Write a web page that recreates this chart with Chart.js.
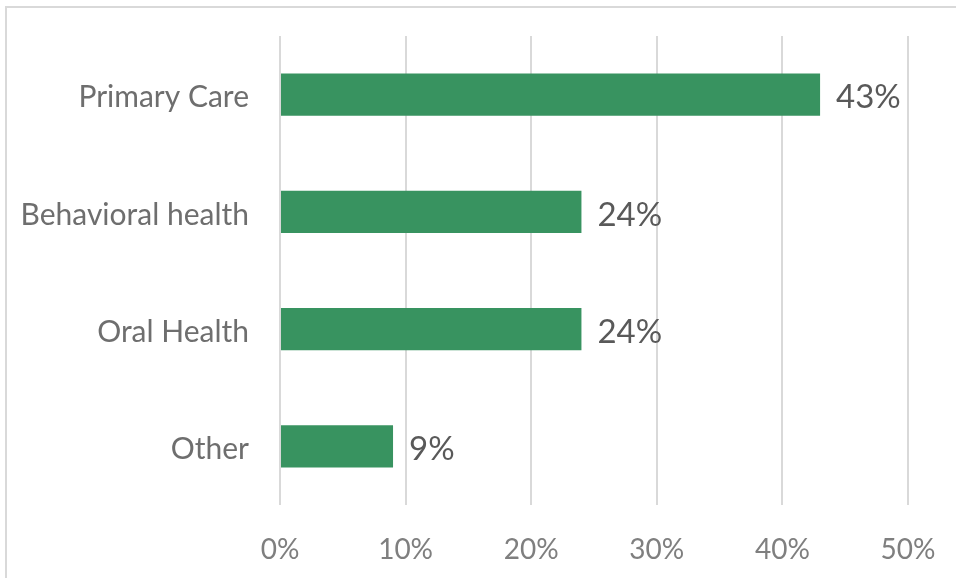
<!DOCTYPE html>
<html>
<head>
<meta charset="utf-8">
<script src="https://cdn.jsdelivr.net/npm/chart.js@4"></script>
<style>
  html, body { margin: 0; padding: 0; background: #fff; }
  #wrap { width: 956px; height: 578px; position: relative; }
</style>
</head>
<body>
<div id="wrap"><canvas id="chart" width="956" height="578"></canvas></div>
<script>
const categories = ['Primary Care', 'Behavioral health', 'Oral Health', 'Other'];
const shares = [43, 24, 24, 9];
const xTicks = [0, 10, 20, 30, 40, 50];

// frame around the whole chart
const framePlugin = {
    id: 'frame',
    beforeDraw(chart) {
        const ctx = chart.ctx;
        ctx.save();
        ctx.strokeStyle = '#d9d9d9';
        ctx.lineWidth = 2;
        ctx.strokeRect(6, 7, chart.width + 10, chart.height + 10);
        ctx.restore();
    }
};

// value labels at the end of each bar
const valueLabels = {
    id: 'valueLabels',
    afterDatasetsDraw(chart) {
        const ctx = chart.ctx;
        const meta = chart.getDatasetMeta(0);
        ctx.save();
        ctx.font = '33px Lato';
        ctx.fillStyle = '#595959';
        ctx.textAlign = 'left';
        ctx.textBaseline = 'middle';
        meta.data.forEach((bar, i) => {
            ctx.fillText(shares[i] + '%', bar.x + 16, bar.y + 3);
        });
        ctx.restore();
    }
};

const ctx = document.getElementById('chart').getContext('2d');
new Chart(ctx, {
    type: 'bar',
    data: {
        labels: categories,
        datasets: [{
            data: shares,
            backgroundColor: '#389360',
            borderWidth: 0,
            categoryPercentage: 1,
            barPercentage: 0.36
        }]
    },
    options: {
        indexAxis: 'y',
        responsive: false,
        animation: false,
        layout: { padding: { top: 36, right: 48, left: 0, bottom: 0 } },
        plugins: {
            legend: { display: false },
            tooltip: { enabled: false }
        },
        scales: {
            x: {
                min: 0,
                max: 50,
                afterBuildTicks: scale => { scale.ticks = xTicks.map(v => ({ value: v })); },
                afterFit: scale => {
                    scale.height = 73;
                    scale.paddingLeft = 0;
                    scale.paddingRight = 0;
                },
                border: { display: false },
                grid: { color: '#d9d9d9', lineWidth: 2, drawTicks: false },
                ticks: {
                    padding: 28,
                    color: '#7f7f7f',
                    font: { family: 'Lato', size: 28 },
                    callback: v => v + '%'
                }
            },
            y: {
                afterFit: scale => {
                    scale.width = 280;
                    scale.paddingTop = 0;
                    scale.paddingBottom = 0;
                },
                border: { display: false },
                grid: { display: false, drawTicks: false },
                ticks: {
                    padding: 31,
                    labelOffset: 3,
                    color: '#6e6e6e',
                    font: { family: 'Lato', size: 30 }
                }
            }
        }
    },
    plugins: [framePlugin, valueLabels]
});
</script>
</body>
</html>
